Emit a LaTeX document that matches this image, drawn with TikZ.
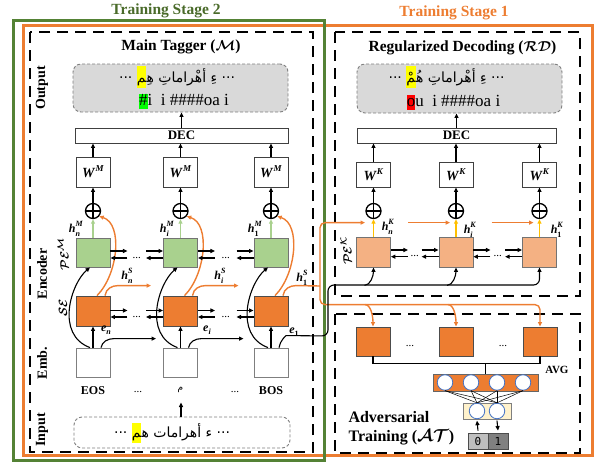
\documentclass[tikz,border=0pt]{standalone}
\usepackage{fontspec}
\setmainfont{Liberation Serif}
\newfontfamily\arabicfont[Script=Arabic]{DejaVu Sans}
\newfontfamily\digitfont{DejaVu Sans Mono}
\usepackage{bm}
\usetikzlibrary{arrows.meta}
\TeXXeTstate=1

\definecolor{stgreen}{HTML}{548235}
\definecolor{sttext}{HTML}{4A6B2A}
\definecolor{stor}{HTML}{ED7D31}
\definecolor{pegreen}{HTML}{A9D18E}
\definecolor{pek}{HTML}{F4B183}
\definecolor{hkyel}{HTML}{FFC000}
\definecolor{outgrey}{HTML}{D9D9D9}
\definecolor{edgegrey}{HTML}{7F7F7F}
\definecolor{nnblue}{HTML}{4472C4}
\definecolor{barcream}{HTML}{FFF2CC}
\definecolor{hlyellow}{HTML}{FFFF00}
\definecolor{hlgreen}{HTML}{00FF00}
\definecolor{hlred}{HTML}{FF0000}
\definecolor{zerogrey}{HTML}{BFBFBF}
\definecolor{onegrey}{HTML}{808080}

\newcommand\fsz[1]{\fontsize{#1}{#1}\selectfont}
% highlighted piece of Latin text: colour, depth, total height, content
\newcommand\hilite[4]{{\setlength{\fboxsep}{0pt}\colorbox{#1}{\rule[-#2]{0pt}{#3}#4}}}
% vector symbols with sub- and superscripts
\newcommand\hsym[3]{\textbf{\textit{#1}}\rlap{\raisebox{-0.32em}{\fsz{8}\textbf{#2}}}\raisebox{0.5em}{\fsz{8}\textbf{\textit{#3}}}}
\newcommand\esym[1]{\textbf{\textit{e}}\raisebox{-0.3em}{\fsz{8}\textbf{#1}}}
\newcommand\wsym[1]{\textbf{\textit{W}}\raisebox{0.45em}{\fsz{9}\textbf{\textit{#1}}}}
% pair of opposite arrows between two neighbouring cells
\newcommand\bidir[4]{%
  \draw[arr] ([yshift=#3]#1.east) -- ++(17,0);
  \draw[arr] ([yshift=#3]#2.west) ++(-17,0) -- ([yshift=#3]#2.west);
  \draw[arr] ([yshift=#4]#1.east) ++(17,0) -- ([yshift=#4]#1.east);
  \draw[arr] ([yshift=#4]#2.west) -- ++(-17,0);
  \path ([yshift=#4]#1.east) -- node[dotlab]{...} ([yshift=#4]#2.west);
}

\begin{document}
\begin{tikzpicture}[x=1pt,y=-1pt,
  >={Triangle[length=4.5pt,width=4pt]},
  arr/.style={->,line width=1.1pt},
  oarr/.style={->,draw=stor,line width=1.4pt},
  ostroke/.style={draw=stor,line width=1.4pt},
  garr/.style={->,draw=pegreen,line width=1.6pt},
  yarr/.style={->,draw=hkyel,line width=1.6pt},
  dashbox/.style={line width=1.8pt,dash pattern=on 11pt off 7pt},
  cellbox/.style={minimum width=34pt,minimum height=30pt,inner sep=0pt,line width=0.8pt},
  wbox/.style={cellbox,draw=black!75,fill=white,font=\fsz{14}},
  pebox/.style={cellbox,minimum height=29pt,draw=black!55,fill=pegreen},
  sebox/.style={cellbox,draw=black!70,fill=stor},
  embbox/.style={cellbox,minimum height=29pt,draw=edgegrey,fill=white},
  pkbox/.style={cellbox,draw=black!55,fill=pek},
  atbox/.style={cellbox,minimum height=29pt,draw=black!70,fill=stor},
  plusnode/.style={circle,draw,line width=1.3pt,minimum size=15pt,inner sep=0pt,
    path picture={\draw[line width=1.3pt] (path picture bounding box.north)--(path picture bounding box.south)
      (path picture bounding box.west)--(path picture bounding box.east);}},
  decbox/.style={draw=black!75,fill=white,line width=0.8pt,minimum height=15pt,inner sep=0pt,font=\bfseries\fsz{13}},
  txtbox/.style={draw=edgegrey,dash pattern=on 3pt off 2pt,line width=0.9pt,rounded corners=8pt,inner sep=0pt},
  sidelab/.style={rotate=90,font=\bfseries\fsz{14}},
  mathlab/.style={rotate=90,font=\fsz{13}},
  ttl/.style={font=\bfseries\fsz{15.5}},
  hlab/.style={font=\fsz{12},inner sep=0pt},
  dotlab/.style={anchor=base,inner sep=0pt,font=\fsz{11}},
  wordlab/.style={font=\bfseries\fsz{12}},
  nnunit/.style={circle,draw=nnblue,fill=white,line width=0.8pt,minimum size=15.5pt,inner sep=0pt},
  arab/.style={font=\arabicfont\fsz{14},inner sep=0pt},
  hlpart/.style={arab,fill=hlyellow,text height=16pt,text depth=6pt,anchor=base}
]
\useasboundingbox (0,0) rectangle (597,463);

% stage frames
\draw[stor,line width=3pt] (23,25) rectangle (592,455);
\draw[stgreen,line width=3pt] (13,20) rectangle (324,460);
\node[ttl,text=sttext] (ts2) at (166,11) {Training Stage 2};
\node[ttl,text=stor] (ts1) at (454,12.5) {Training Stage 1};

% module frames
\draw[dashbox] (30,32) rectangle (313,452);
\draw[dashbox] (335,32) rectangle (580,296);
\draw[dashbox] (335,314) rectangle (580,453);

\node[ttl] (tm) at (181,47) {Main Tagger ($\bm{\mathcal{M}}$)};
\node[ttl] (trd) at (462.5,47.5) {Regularized Decoding ($\bm{\mathcal{RD}}$)};

% row labels
\node[sidelab] (lout) at (42,88) {Output};
\node[sidelab] (lenc) at (42,274) {Encoder};
\node[sidelab] (lemb) at (42,363) {Emb.};
\node[sidelab] (linp) at (42,430) {Input};
\node[mathlab] (lpe) at (63,254) {$\bm{\mathcal{PE}^{\mathcal{M}}}$};
\node[mathlab] (lse) at (63,308) {$\bm{\mathcal{SE}}$};
\node[mathlab] (lpk) at (346,251) {$\bm{\mathcal{PE}^{\mathcal{K}}}$};

% ---------------- main tagger ----------------
\node[txtbox,fill=outgrey,minimum width=215pt,minimum height=48pt] (mout) at (180.5,88) {};
\node[hlpart] (mh) at (141.5,82) {^^^^200dم};
\node[arab,anchor=base west] (mr) at (mh.base east) {\beginR ··· ءِ أهْراماتِ هِ^^^^200d\endR};
\node[arab,anchor=base east] (ml) at ([xshift=-4pt]mh.base west) {···};
\node[inner sep=0pt,font=\fsz{17}] (moutb) at (184,101)
  {\hilite{hlgreen}{3pt}{15pt}{\#}i\ \ i \#\#\#\#oa i};
\node[decbox,minimum width=213pt] (decM) at (181.5,135.5) {DEC};
\draw[arr] (decM.north) -- (decM.north |- mout.south);

\foreach \i/\cx in {1/93,2/180.5,3/271}{
  \node[wbox] (w\i) at (\cx,172) {\wsym{M}};
  \node[plusnode] (p\i) at (\cx,211) {};
  \node[pebox] (pe\i) at (\cx,252.5) {};
  \node[sebox] (se\i) at (\cx,311) {};
  \node[embbox] (emb\i) at (\cx,362.5) {};
}
\foreach \i in {1,2,3}{
  \draw[arr] (w\i.north) -- (w\i.north |- decM.south);
  \draw[arr] (p\i.north) -- (w\i.south);
  \draw[garr] (pe\i.north) -- (p\i.south);
  \draw[arr] (emb\i.north) -- (se\i.south);
  \draw[arr] ([xshift=-3pt]emb\i.north) .. controls +(-35,-13) and +(-19,16) .. ([xshift=-3pt]pe\i.south);
  \draw[oarr] ([xshift=4pt]se\i.north) .. controls +(21,-21) and +(24,8) .. (p\i.-40);
}
\foreach \i in {1,2}{
  \draw[oarr] ([xshift=12pt]se\i.north) .. controls +(1,-7) and +(-6,0) .. ++(13,-10) -- ++(33,0);
  \draw[arr] ([xshift=8pt]emb\i.north) .. controls +(1,-6) and +(-6,0) .. ++(13,-9) -- ++(42,0);
}
\bidir{pe1}{pe2}{1.5pt}{-5.5pt}
\bidir{pe2}{pe3}{1.5pt}{-5.5pt}
\bidir{se1}{se2}{0.5pt}{-6pt}
\bidir{se2}{se3}{0.5pt}{-6pt}

\node[hlab] (hm1) at (76,229) {\hsym{h}{\textit{n}}{M}};
\node[hlab] (hm2) at (167,229) {\hsym{h}{\textit{i}}{M}};
\node[hlab] (hm3) at (255,229) {\hsym{h}{1}{M}};
\node[hlab] (hs1) at (127,276) {\hsym{h}{\textit{n}}{S}};
\node[hlab] (hs2) at (220,276) {\hsym{h}{\textit{i}}{S}};
\node[hlab] (hs3) at (302,278) {\hsym{h}{1}{S}};
\node[hlab] (e1) at (106,330) {\esym{\textit{n}}};
\node[hlab] (e2) at (207,330) {\esym{\textit{i}}};
\node[hlab] (e3) at (294,332) {\esym{1}};

\node[wordlab] (leos) at (93,391) {EOS};
\node[dotlab] (ldots1) at (138,392) {...};
\node[font=\arabicfont\fsz{9}] (lm) at (180.5,390) {م};
\node[dotlab] (ldots2) at (235,392) {...};
\node[wordlab] (lbos) at (271,391) {BOS};

\node[txtbox,fill=white,minimum width=216pt,minimum height=31pt] (inp) at (182,432.5) {};
\node[hlpart,text height=14pt,text depth=6pt] (ih) at (136.5,437) {^^^^200dم};
\node[arab,anchor=base west] (ir) at (ih.base east) {\beginR ··· ء أهرامات ه^^^^200d\endR};
\node[arab,anchor=base east] (il) at ([xshift=-4pt]ih.base west) {···};
\draw[arr] ([xshift=-1pt]inp.north) -- ++(0,-14);

% ---------------- regularized decoding ----------------
\node[txtbox,fill=outgrey,minimum width=205pt,minimum height=49pt] (rout) at (459.5,88.5) {};
\node[hlpart] (rh) at (411,82) {^^^^200dمْ};
\node[arab,anchor=base west] (rr) at (rh.base east) {\beginR ··· ءِ أهْراماتِ هُ^^^^200d\endR};
\node[arab,anchor=base east] (rl) at ([xshift=-4pt]rh.base west) {···};
\node[inner sep=0pt,font=\fsz{17}] (routb) at (453.5,102)
  {\hilite{hlred}{3pt}{15pt}{o}u\ \ i \#\#\#\#oa i};
\node[decbox,minimum width=199pt] (decK) at (456.5,135.5) {DEC};
\draw[arr] (decK.north) -- (decK.north |- rout.south);

\foreach \i/\cx in {1/373.5,2/456,3/539.5}{
  \node[wbox,minimum height=25pt] (wk\i) at (\cx,174.5) {\wsym{K}};
  \node[plusnode] (pk\i) at (\cx,211) {};
  \node[pkbox] (pkb\i) at (\cx,252) {};
}
\foreach \i in {1,2,3}{
  \draw[arr] (wk\i.north) -- (wk\i.north |- decK.south);
  \draw[arr] (pk\i.north) -- (wk\i.south);
  \draw[yarr] (pkb\i.north) -- (pk\i.south);
}
\bidir{pkb1}{pkb2}{2pt}{-4.7pt}
\bidir{pkb2}{pkb3}{2pt}{-4.7pt}
\node[hlab] (hk1) at (388,227) {\hsym{h}{\textit{n}}{K}};
\node[hlab] (hk2) at (470,230) {\hsym{h}{\textit{i}}{K}};
\node[hlab] (hk3) at (557,230) {\hsym{h}{1}{K}};

% ---------------- adversarial training ----------------
\foreach \i/\cx in {1/373,2/456,3/540}{
  \node[atbox] (at\i) at (\cx,341.5) {};
}
\node[dotlab] (adots1) at (410,346) {...};
\node[dotlab] (adots2) at (503,346) {...};
\node[draw=black!60,fill=stor,line width=0.8pt,minimum width=105pt,minimum height=17pt,inner sep=0pt] (bar1) at (485.5,382.5) {};
\foreach \i/\cx in {1/445,2/471,3/497,4/523}{
  \node[nnunit] (c\i) at (\cx,382.5) {};
}
\node[draw=edgegrey,fill=barcream,line width=0.8pt,minimum width=48pt,minimum height=16pt,inner sep=0pt] (bar2) at (487,411) {};
\node[nnunit] (d1) at (477,411) {};
\node[nnunit] (d2) at (497,411) {};
\foreach \a in {1,2,3,4}{
  \foreach \b in {1,2}{
    \draw[line width=0.5pt] (c\a.south) -- (d\b.north);
  }
}
\draw[line width=1.2pt] (at1.south) -- ++(0,7) -| (at3.south);
\draw[line width=1.2pt] (bar1.north) -- ++(0,-11);
\node[font=\bfseries\fsz{11}] (avg) at (557,370) {AVG};
\node[draw=black!70,fill=zerogrey,line width=0.8pt,minimum width=20pt,minimum height=16pt,inner sep=0pt,font=\digitfont\fsz{11}] (zero) at (478,441) {0};
\node[draw=black!70,fill=onegrey,line width=0.8pt,minimum width=20pt,minimum height=16pt,inner sep=0pt,font=\digitfont\fsz{11}] (one) at (498,441) {1};
\draw[arr] ([yshift=2pt]zero.north) -- ([yshift=-1.5pt]d1.south);
\draw[arr] ([yshift=-1.5pt]d2.south) -- ([yshift=2pt]one.north);
\node[align=left,anchor=west,font=\bfseries\fontsize{16}{19}\selectfont] (attl) at (345,428.5)
  {Adversarial\\Training ($\bm{\mathcal{AT}}$)};

% ---------------- links between the modules ----------------
\coordinate (oj) at (320,286);
\draw[ostroke] ([xshift=12pt]se3.north) .. controls +(1,-7) and +(-6,0) .. ++(13,-10) -- (oj);
\draw[oarr,rounded corners=5pt] (oj) |- ([shift={(-8.5,3.5)}]pk1.south);
\draw[oarr] ([shift={(-48,3.5)}]pk2.south) -- ([shift={(-6,3.5)}]pk2.south);
\draw[oarr] ([shift={(-48,3.5)}]pk3.south) -- ([shift={(-6,3.5)}]pk3.south);
\draw[oarr,rounded corners=5pt] (oj) |- ([yshift=22pt]at3.north) -- (at3.north);
\foreach \i in {1,2}{
  \draw[oarr] ([shift={(-8,-22)}]at\i.north) .. controls +(6,0) and +(0,-10) .. (at\i.north);
}

\coordinate (bj1) at (328,336);
\coordinate (bj2) at (328,285);
\draw[arr,rounded corners=6pt] ([xshift=8pt]emb3.north) .. controls +(1,-7) and +(-6,0) .. ++(13,-12)
  -- (bj1) -- (bj2) -- (pkb3.south |- bj2) -- (pkb3.south);
\foreach \i in {1,2}{
  \draw[arr] ([shift={(-9,18)}]pkb\i.south) .. controls +(6,0) and +(0,8) .. (pkb\i.south);
}
\end{tikzpicture}
\end{document}
